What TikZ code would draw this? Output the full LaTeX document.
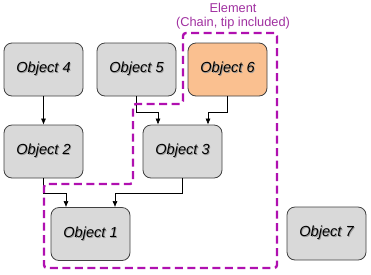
\documentclass[tikz,border=0pt]{standalone}
\usepackage{fontspec}
\setmainfont{Liberation Sans}
\usetikzlibrary{arrows.meta}
\definecolor{boxgray}{HTML}{D9D9D9}
\definecolor{boxline}{HTML}{404040}
\definecolor{orangefill}{HTML}{FAC090}
\definecolor{elempurple}{HTML}{B010B0}
\definecolor{elemtext}{HTML}{A030A0}
\definecolor{shadowgray}{HTML}{9A9A9A}
\newcommand\shtxt[1]{\makebox[0pt][l]{\kern0.9pt\raisebox{-0.9pt}{\textcolor{shadowgray}{#1}}}#1}
\begin{document}
\begin{tikzpicture}[x=1pt,y=-1pt,
  obj/.style={draw=boxline, line width=0.8pt, fill=boxgray, rounded corners=8pt,
    minimum width=79pt, minimum height=53pt, inner sep=0pt,
    font=\fontsize{14.6}{16}\selectfont\itshape},
  link/.style={draw=black, line width=0.6pt, -{Latex[length=6pt,width=5pt]}},
  elem/.style={draw=elempurple, line width=2.4pt, dash pattern=on 8pt off 4.5pt, rounded corners=3pt},
  elemlabel/.style={text=elemtext, font=\fontsize{12.8}{14.5}\selectfont, align=center, inner sep=0pt}
]
\useasboundingbox (0,0) rectangle (371,274);
\node[obj] (o4) at (43.5,69.5) {\shtxt{Object 4}};
\node[obj] (o5) at (136.5,69.5) {\shtxt{Object 5}};
\node[obj, fill=orangefill] (o6) at (227.5,69.5) {\shtxt{Object 6}};
\node[obj] (o2) at (43.5,151.5) {\shtxt{Object 2}};
\node[obj] (o3) at (182.5,151.5) {\shtxt{Object 3}};
\node[obj] (o1) at (90.5,234) {\shtxt{Object 1}};
\node[obj] (o7) at (326.5,233.5) {\shtxt{Object 7}};

\node[elemlabel] (lab) at (233,16) {Element\\(Chain, tip included)};

\draw[link] (o4.south) -- (o2.north);
\draw[link] (o5.south) -- ++(0,16) -| ([xshift=-24.5pt]o3.north);
\draw[link] (o6.south) -- ++(0,16) -| ([xshift=25.5pt]o3.north);
\draw[link] (o2.south) -- ++(0,15) -| ([xshift=-24.5pt]o1.north);
\draw[link] (o3.south) -- ++(0,15) -| ([xshift=24.5pt]o1.north);

\draw[elem] (277,33) -- (183,33) -- (183,104) -- (133,104) -- (133,184) -- (44,184) -- (44,268) -- (277,268) -- cycle;
\end{tikzpicture}
\end{document}
